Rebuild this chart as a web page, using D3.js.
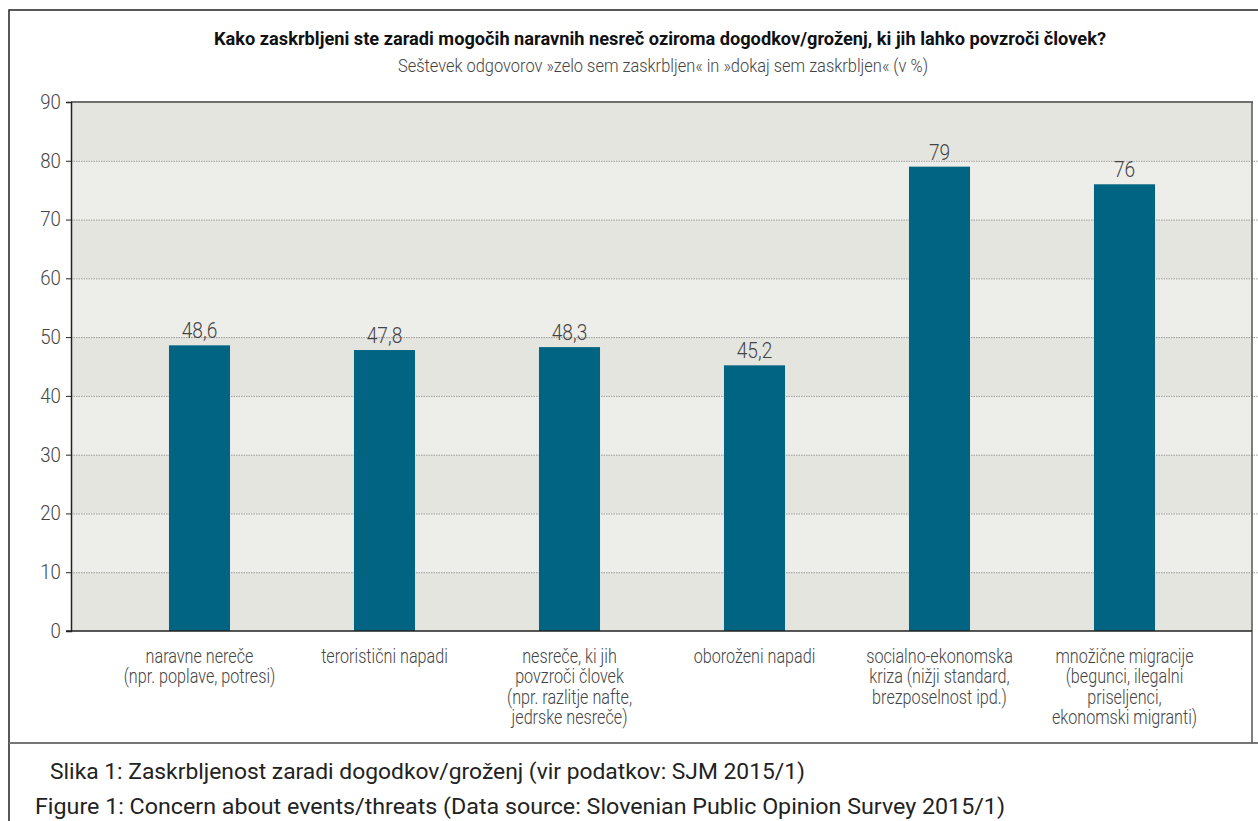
<!DOCTYPE html>
<html>

<head>
  <meta charset="UTF-8">
  <title>Zaskrbljenost</title>
  <script src="https://d3js.org/d3.v7.min.js"></script>
  <style>
    body {
      margin: 0;
      background: #fff;
    }

    svg text {
      font-family: "Roboto", "Liberation Sans", sans-serif;
      font-weight: 300;
    }

    svg text.title {
      font-weight: 700;
    }

    svg text.caption {
      font-weight: 400;
    }
  </style>
</head>

<body>
  <svg></svg>

  <script>
    // data
    const categories = [
      ["naravne nereče", "(npr. poplave, potresi)"],
      ["teroristični napadi"],
      ["nesreče, ki jih", "povzroči človek", "(npr. razlitje nafte,", "jedrske nesreče)"],
      ["oboroženi napadi"],
      ["socialno-ekonomska", "kriza (nižji standard,", "brezposelnost ipd.)"],
      ["množične migracije", "(begunci, ilegalni", "priseljenci,", "ekonomski migranti)"]
    ];
    const values = [48.6, 47.8, 48.3, 45.2, 79, 76];
    const yTicks = [0, 10, 20, 30, 40, 50, 60, 70, 80, 90];

    const title = "Kako zaskrbljeni ste zaradi mogočih naravnih nesreč oziroma dogodkov/groženj, ki jih lahko povzroči človek?";
    const subtitle = "Seštevek odgovorov »zelo sem zaskrbljen« in »dokaj sem zaskrbljen«  (v %)";
    const caption1 = "Slika 1: Zaskrbljenost zaradi dogodkov/groženj (vir podatkov: SJM 2015/1)";
    const caption2 = "Figure 1: Concern about events/threats (Data source: Slovenian Public Opinion Survey 2015/1)";

    let width = 1258,
      height = 821;

    let svg = d3.select("svg")
      .attr("width", width)
      .attr("height", height);

    let plotLeft = 71, plotRight = 1252, plotTop = 102, plotBottom = 631;

    let x = d3.scaleBand()
      .domain(d3.range(values.length))
      .range([107, 1217])
      .paddingInner(0.67)
      .paddingOuter(0.335);

    let y = d3.scaleLinear()
      .domain([0, 90])
      .range([plotBottom, plotTop]);

    // outer frame
    svg.append("path")
      .attr("d", "M9,821 V10 H1258")
      .attr("fill", "none")
      .attr("stroke", "#222")
      .attr("stroke-width", 1.5);
    svg.append("line")
      .attr("x1", 9).attr("x2", width)
      .attr("y1", 743).attr("y2", 743)
      .attr("stroke", "#777")
      .attr("stroke-width", 2);

    // alternating bands
    svg.append("g")
      .selectAll("rect")
      .data(yTicks.slice(0, -1))
      .enter()
      .append("rect")
      .attr("x", plotLeft)
      .attr("width", plotRight - plotLeft)
      .attr("y", d => y(d + 10))
      .attr("height", d => y(d) - y(d + 10))
      .attr("fill", d => (d / 10) % 2 == 0 ? "#e5e5e0" : "#ededea");

    // grid lines
    svg.append("g")
      .selectAll("line")
      .data(yTicks.slice(1, -1))
      .enter()
      .append("line")
      .attr("x1", plotLeft)
      .attr("x2", width)
      .attr("y1", d => y(d) + 0.5)
      .attr("y2", d => y(d) + 0.5)
      .attr("stroke", "#9a9a9a")
      .attr("stroke-width", 1)
      .attr("stroke-dasharray", "1.5,1");

    // top line + right edge
    svg.append("line")
      .attr("x1", plotLeft).attr("x2", plotRight + 1)
      .attr("y1", y(90)).attr("y2", y(90))
      .attr("stroke", "#707070")
      .attr("stroke-width", 2);
    svg.append("line")
      .attr("x1", plotRight).attr("x2", plotRight)
      .attr("y1", y(90)).attr("y2", 743)
      .attr("stroke", "#555")
      .attr("stroke-width", 1.5);

    // bars
    svg.append("g")
      .selectAll("rect")
      .data(values)
      .enter()
      .append("rect")
      .attr("x", (d, i) => x(i))
      .attr("width", x.bandwidth())
      .attr("y", d => y(d))
      .attr("height", d => y(0) - y(d))
      .attr("fill", "#006482");

    // value labels (narrowed a bit, the original font is condensed)
    svg.append("g")
      .selectAll("text")
      .data(values)
      .enter()
      .append("text")
      .attr("transform", (d, i) =>
        "translate(" + (x(i) + x.bandwidth() / 2) + "," + (y(d) - 7) + ") scale(0.87,1)")
      .attr("text-anchor", "middle")
      .attr("font-size", 22)
      .attr("fill", "#444")
      .text(d => String(d).replace(".", ","));

    // y axis
    let yAxis = d3.axisLeft(y)
      .tickValues(yTicks)
      .tickSize(5)
      .tickPadding(6);
    let gy = svg.append("g")
      .attr("transform", "translate(" + plotLeft + ",0)")
      .call(yAxis);
    gy.select(".domain").attr("stroke", "#222").attr("stroke-width", 1.5);
    gy.selectAll(".tick line").attr("stroke", "#222");
    gy.selectAll(".tick text")
      .attr("font-size", 20)
      .attr("fill", "#444")
      .attr("font-family", null)
      .attr("transform", "scale(0.93,1)");

    // x axis line
    svg.append("line")
      .attr("x1", plotLeft - 5).attr("x2", plotRight)
      .attr("y1", plotBottom).attr("y2", plotBottom)
      .attr("stroke", "#222")
      .attr("stroke-width", 1.5);

    // category labels
    let cat = svg.append("g")
      .selectAll("text")
      .data(categories)
      .enter()
      .append("text")
      .attr("transform", (d, i) => "translate(" + (x(i) + x.bandwidth() / 2) + ",0) scale(0.83,1)")
      .attr("text-anchor", "middle")
      .attr("font-size", 19.5)
      .attr("fill", "#444");
    cat.selectAll("tspan")
      .data(d => d)
      .enter()
      .append("tspan")
      .attr("x", 0)
      .attr("y", (d, j) => 663 + j * 20.5)
      .text(d => d);

    // title
    svg.append("text")
      .attr("class", "title")
      .attr("x", 660)
      .attr("y", 45)
      .attr("text-anchor", "middle")
      .attr("font-size", 17.5)
      .attr("fill", "#111")
      .attr("textLength", 892)
      .attr("lengthAdjust", "spacingAndGlyphs")
      .text(title);
    svg.append("text")
      .attr("x", 663)
      .attr("y", 72)
      .attr("text-anchor", "middle")
      .attr("font-size", 17.5)
      .attr("fill", "#444")
      .attr("textLength", 530)
      .attr("lengthAdjust", "spacingAndGlyphs")
      .text(subtitle);

    // captions
    svg.append("text")
      .attr("class", "caption")
      .attr("x", 50)
      .attr("y", 779)
      .attr("font-size", 22)
      .attr("fill", "#222")
      .attr("textLength", 755)
      .attr("lengthAdjust", "spacingAndGlyphs")
      .text(caption1);
    svg.append("text")
      .attr("class", "caption")
      .attr("x", 35)
      .attr("y", 814)
      .attr("font-size", 22)
      .attr("fill", "#222")
      .attr("textLength", 970)
      .attr("lengthAdjust", "spacingAndGlyphs")
      .text(caption2);
  </script>

</body>

</html>
